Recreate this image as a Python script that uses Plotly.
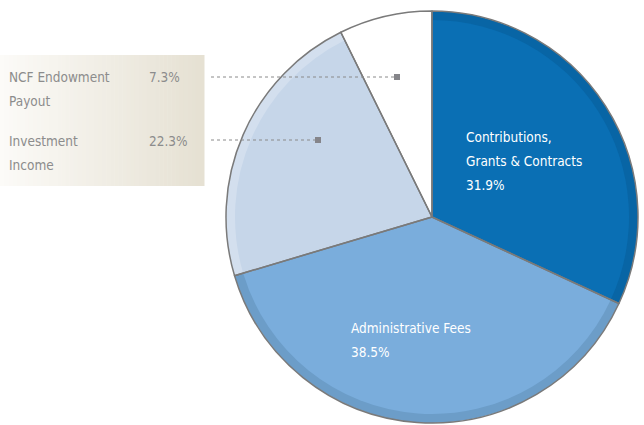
import plotly.graph_objects as go

# Revenue sources (percent)
labels = ['Contributions, Grants & Contracts', 'Administrative Fees',
          'Investment Income', 'NCF Endowment Payout']
values = [31.9, 38.5, 22.3, 7.3]
colors = ['#0a6fb4', '#7aaddc', '#c6d6e9', '#ffffff']
rim_colors = ['#0865a5', '#6c9dc8', '#d3dfee', '#ffffff']

W, H = 644, 425
FONT = 'DejaVu Sans Condensed, Liberation Sans Narrow, sans-serif'


def px(x):
    return x / W


def py(y):
    return 1 - y / H


# pie geometry in pixels
CX, CY, R, RIM = 432, 217, 206, 9

fig = go.Figure()


def pie(fill, r, line_w, hover):
    fig.add_trace(go.Pie(
        labels=labels, values=values, sort=False, direction='clockwise', rotation=0,
        marker=dict(colors=fill, line=dict(color='#7a7a7a', width=line_w)),
        textinfo='none', hoverinfo='label+percent' if hover else 'skip',
        showlegend=False,
        domain=dict(x=[px(CX - r), px(CX + r)], y=[py(CY + r), py(CY - r)]),
    ))


pie(rim_colors, R, 0, False)                 # shaded rim
pie(colors, R - RIM, 0, False)               # main face
pie(['rgba(0,0,0,0)'] * 4, R, 1.5, True)     # outlines

shapes = []
# gradient box behind the small-slice labels
n = 50
c0 = (252, 251, 248)
c1 = (230, 225, 211)
for i in range(n):
    t = i / (n - 1)
    col = tuple(int(c0[k] + (c1[k] - c0[k]) * t) for k in range(3))
    shapes.append(dict(type='rect', xref='paper', yref='paper',
                       x0=px(204 * i / n), x1=px(204 * (i + 1) / n + 0.5),
                       y0=py(186), y1=py(55), line=dict(width=0),
                       fillcolor='rgb(%d,%d,%d)' % col, layer='below'))

# leader lines
for y, xend in [(77, 397), (140, 318)]:
    shapes.append(dict(type='line', xref='paper', yref='paper',
                       x0=px(211), x1=px(xend), y0=py(y), y1=py(y),
                       line=dict(color='#8a8a8a', width=1, dash='dot')))
    shapes.append(dict(type='rect', xref='paper', yref='paper',
                       x0=px(xend - 3), x1=px(xend + 3), y0=py(y + 3), y1=py(y - 3),
                       line=dict(width=0), fillcolor='#85858a'))

annotations = []


def txt(x, y, s, color, size=13.5):
    annotations.append(dict(xref='paper', yref='paper', x=px(x), y=py(y),
                            text=s, showarrow=False, xanchor='left', yanchor='middle',
                            xshift=-2,
                            font=dict(family=FONT, size=size, color=color)))


grey = '#8c8c8c'
txt(9, 77, 'NCF Endowment', grey)
txt(9, 101, 'Payout', grey)
txt(149, 77, '7.3%', grey)
txt(9, 141, 'Investment', grey)
txt(9, 165, 'Income', grey)
txt(149, 141, '22.3%', grey)

txt(466, 137, 'Contributions,', 'white')
txt(466, 161, 'Grants &amp; Contracts', 'white')
txt(466, 185, '31.9%', 'white')
txt(351, 328, 'Administrative Fees', 'white')
txt(351, 352, '38.5%', 'white')

fig.update_layout(
    width=W, height=H, margin=dict(l=0, r=0, t=0, b=0),
    paper_bgcolor='white', plot_bgcolor='white',
    shapes=shapes, annotations=annotations,
    xaxis=dict(visible=False), yaxis=dict(visible=False),
)

fig.write_html('out.html', config={'displayModeBar': False},
               post_script="document.body.style.margin='0';")
